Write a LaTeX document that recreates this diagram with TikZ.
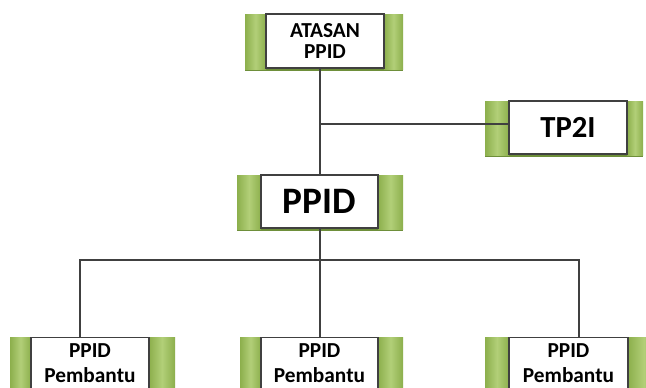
\documentclass[tikz,border=0pt]{standalone}
\usepackage{fontspec}
\setmainfont{Carlito}
\definecolor{gmid}{HTML}{B2CF78}
\definecolor{gedge}{HTML}{8CAF4C}
\definecolor{gshadow}{HTML}{6E8F3A}
\definecolor{linec}{HTML}{404040}
\tikzset{
  whitebox/.style={draw=linec, line width=0.8pt, fill=white, inner sep=0pt, align=center, font=\bfseries, text=black},
  greenbar/.style={left color=gedge, right color=gedge, middle color=gmid, draw=none},
  gshade/.style={fill=gshadow, draw=none},
  conn/.style={draw=linec, line width=1.1pt},
  pemb/.style={font=\bfseries\fontsize{16}{19}\selectfont, align=center, anchor=south, inner sep=0pt, text depth=0pt}
}
% top, bottom, green left, white left, white right, green right
\newcommand{\gbars}[6]{%
  \fill[gshade] (#3,#1+2) rectangle (#6,#2+3);
  \shade[greenbar] (#3,#1) rectangle (#4,#2+1);
  \shade[greenbar] (#5,#1) rectangle (#6,#2+1);
}
\begin{document}
\begin{tikzpicture}[x=0.75pt,y=-0.75pt]
\useasboundingbox (0,0) rectangle (646,387);
\clip (0,0) rectangle (646,387);
\fill[white] (0,0) rectangle (646,387);
% green bars
\gbars{14}{68}{245}{266}{384}{403}
\gbars{101}{154}{485}{509}{627}{643}
\gbars{175}{228}{237}{261}{378}{403}
\gbars{337}{420}{10}{31}{149}{175}
\gbars{337}{420}{240}{261}{378}{403}
\gbars{337}{420}{485}{509}{628}{660}
% white boxes
\node[whitebox, minimum width=88.5pt, minimum height=40.5pt, font=\bfseries\fontsize{16}{16}\selectfont] (atasan) at (325,41) {ATASAN\\PPID};
\node[whitebox, minimum width=88.5pt, minimum height=39.75pt, font=\bfseries\fontsize{23}{25}\selectfont] (tp2i) at (568,127.5) {TP2I};
\node[whitebox, minimum width=87.75pt, minimum height=39.75pt, font=\bfseries\fontsize{28}{30}\selectfont] (ppid) at (319.5,201.5) {PPID};
\node[whitebox, anchor=north, minimum width=88.5pt, minimum height=60pt] (b1) at (90,337) {};
\node[whitebox, anchor=north, minimum width=87.75pt, minimum height=60pt] (b2) at (319.5,337) {};
\node[whitebox, anchor=north, minimum width=89.25pt, minimum height=60pt] (b3) at (568.5,337) {};
\node[pemb] (b1t) at (90,383) {PPID\\Pembantu};
\node[pemb] (b2t) at (319.5,383) {PPID\\Pembantu};
\node[pemb] (b3t) at (568.5,383) {PPID\\Pembantu};
% connectors
\coordinate (spine) at (320,0);
\coordinate (bus) at (0,260);
\coordinate (tjoin) at (320,124);
\draw[conn] (atasan.south -| spine) -- (ppid.north -| spine);
\draw[conn] (tjoin) -- (tjoin -| tp2i.west);
\draw[conn] (ppid.south -| spine) -- (spine |- bus);
\draw[conn] (spine |- bus) -| (80,337) coordinate (b1top);
\draw[conn] (spine |- bus) -| (579,337) coordinate (b3top);
\draw[conn] (spine |- bus) -- (b2.north -| spine);
\end{tikzpicture}
\end{document}
